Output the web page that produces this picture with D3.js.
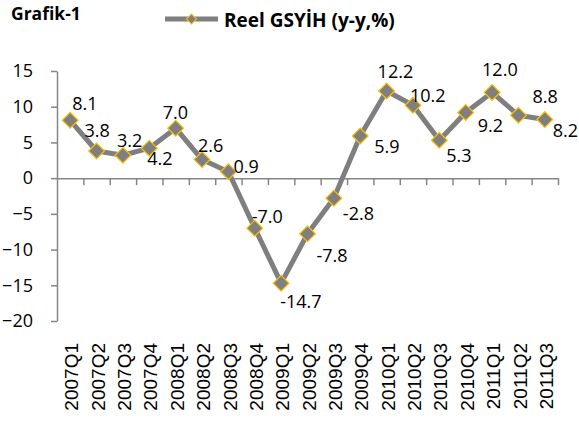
<!DOCTYPE html>
<html>
<head>
<meta charset="utf-8">
<script src="https://cdn.jsdelivr.net/npm/d3@7"></script>
<style>
  body { margin: 0; background: #fff; }
  svg { display: block; }
</style>
</head>
<body>
<div id="chart"></div>
<script>
// 数据
const categories = ["2007Q1", "2007Q2", "2007Q3", "2007Q4", "2008Q1", "2008Q2", "2008Q3", "2008Q4",
    "2009Q1", "2009Q2", "2009Q3", "2009Q4", "2010Q1", "2010Q2", "2010Q3", "2010Q4",
    "2011Q1", "2011Q2", "2011Q3"];
const gdpGrowth = [8.1, 3.8, 3.2, 4.2, 7.0, 2.6, 0.9, -7.0, -14.7, -7.8, -2.8, 5.9, 12.2, 10.2, 5.3, 9.2, 12.0, 8.8, 8.2];
const yTicks = [-20, -15, -10, -5, 0, 5, 10, 15];
const seriesName = "Reel GSYİH (y-y,%)";
const chartTitle = "Grafik-1";

// 数据标签相对于点的偏移 (左边缘, 基线)
const labelOffsets = [[2, -10], [-12, -14], [-6, -8], [-2, 17], [-13, -9], [-4, -8], [5, 1], [-3, -5],
    [-1, 25], [9, 28], [9, 22], [14, 17], [-9, -13], [-3, -3], [7, 22], [12, 20], [-10, -16], [14, -12], [8, 17]];

const width = 579, height = 421;
const plotLeft = 57, plotRight = 558, plotTop = 71, plotBottom = 321;
const lineColor = "#7f7f7f", markerStroke = "#ffc000", axisColor = "#868686";
const numFont = "'Open Sans', sans-serif";

const svg = d3.select("#chart").append("svg")
    .attr("width", width)
    .attr("height", height);

const x = d3.scaleBand().domain(categories).range([plotLeft, plotRight]);
const y = d3.scaleLinear().domain([-20, 15]).range([plotBottom, plotTop]);
const cx = d => x(d) + x.bandwidth() / 2;

// 标题
svg.append("text")
    .attr("x", 11).attr("y", 20)
    .attr("font-family", numFont)
    .attr("font-weight", "bold")
    .attr("font-size", "17.5px")
    .attr("fill", "#000")
    .text(chartTitle);

// 图例
const legend = svg.append("g");
legend.append("line")
    .attr("x1", 165).attr("x2", 218).attr("y1", 19).attr("y2", 19)
    .attr("stroke", lineColor).attr("stroke-width", 5);
legend.append("path")
    .attr("d", d3.symbol(d3.symbolSquare, 50)())
    .attr("transform", "translate(191.5,19) rotate(45)")
    .attr("fill", lineColor).attr("stroke", markerStroke).attr("stroke-width", 1);
legend.append("text")
    .attr("x", 224).attr("y", 26.5)
    .attr("font-family", numFont)
    .attr("font-weight", "bold")
    .attr("font-size", "19px")
    .attr("fill", "#000")
    .text(seriesName);

// Y 轴
const yAxis = svg.append("g")
    .attr("transform", `translate(${plotLeft},0)`)
    .call(d3.axisLeft(y).tickValues(yTicks).tickSize(6).tickSizeOuter(0).tickPadding(18));
yAxis.select(".domain").attr("stroke", axisColor).attr("stroke-width", 1.5);
yAxis.selectAll(".tick line").attr("stroke", axisColor).attr("stroke-width", 1.5);
yAxis.selectAll(".tick text")
    .attr("font-family", numFont)
    .attr("font-size", "18px")
    .attr("fill", "#000");

// X 轴 (在 0 处，刻度在类别之间)
const xEdge = d3.scaleLinear().domain([0, categories.length]).range([plotLeft, plotRight]);
const xAxis = svg.append("g")
    .attr("transform", `translate(0,${y(0)})`)
    .call(d3.axisBottom(xEdge).tickValues(d3.range(1, categories.length + 1)).tickFormat("").tickSize(7).tickSizeOuter(0));
xAxis.select(".domain").attr("stroke", axisColor).attr("stroke-width", 1.5);
xAxis.selectAll(".tick line").attr("stroke", axisColor).attr("stroke-width", 1.5);

// X 标签 (旋转)
svg.append("g").selectAll("text")
    .data(categories)
    .enter()
    .append("text")
    .attr("transform", d => `translate(${cx(d) + 1.5},343) rotate(-90)`)
    .attr("text-anchor", "end")
    .attr("dy", "0.35em")
    .attr("font-family", "'Liberation Sans', Arial, sans-serif")
    .attr("font-size", "19px")
    .attr("fill", "#000")
    .text(d => d);

// 折线
const line = d3.line()
    .x((d, i) => cx(categories[i]))
    .y(d => y(d));
svg.append("path")
    .datum(gdpGrowth)
    .attr("d", line)
    .attr("fill", "none")
    .attr("stroke", lineColor)
    .attr("stroke-width", 5)
    .attr("stroke-linejoin", "round");

// 标记
svg.append("g").selectAll("path")
    .data(gdpGrowth)
    .enter()
    .append("path")
    .attr("d", d3.symbol(d3.symbolSquare, 125)())
    .attr("transform", (d, i) => `translate(${cx(categories[i])},${y(d)}) rotate(45)`)
    .attr("fill", lineColor)
    .attr("stroke", markerStroke)
    .attr("stroke-width", 1.2);

// 数据标签
svg.append("g").selectAll("text")
    .data(gdpGrowth)
    .enter()
    .append("text")
    .attr("x", (d, i) => cx(categories[i]) + labelOffsets[i][0])
    .attr("y", (d, i) => y(d) + labelOffsets[i][1])
    .attr("font-family", numFont)
    .attr("font-size", "18px")
    .attr("fill", "#000")
    .text(d => d.toFixed(1));
</script>
</body>
</html>
